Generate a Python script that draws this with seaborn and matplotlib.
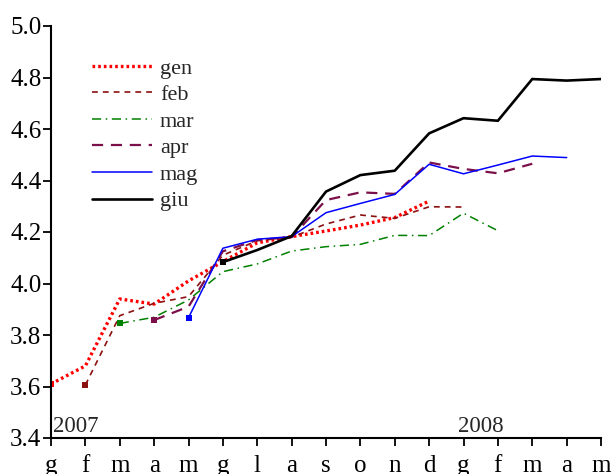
import numpy as np
import pandas as pd
import matplotlib
matplotlib.use("Agg")
import matplotlib.pyplot as plt
import seaborn as sns

months = ["g", "f", "m", "a", "m", "g", "l", "a", "s", "o", "n", "d",
          "g", "f", "m", "a", "m"]
year_labels = ["2007", "2008"]

gen = [3.61, 3.68, 3.94, 3.92, 4.01, 4.085, 4.158, 4.182, 4.204, 4.227, 4.256, 4.32]
feb = [3.606, 3.875, 3.923, 3.949, 4.11, 4.166, 4.18, 4.231, 4.266, 4.253, 4.298, 4.297]
mar = [3.845, 3.869, 3.936, 4.046, 4.076, 4.126, 4.143, 4.152, 4.187, 4.186, 4.273, 4.205]
apr = [3.858, 3.91, 4.125, 4.169, 4.18, 4.324, 4.354, 4.348, 4.47, 4.445, 4.428, 4.465]
mag = [3.867, 4.137, 4.172, 4.182, 4.275, 4.311, 4.346, 4.463, 4.426, 4.46, 4.495, 4.489]
giu = [4.083, 4.13, 4.184, 4.357, 4.421, 4.438, 4.583, 4.642, 4.632, 4.794, 4.788, 4.794]

series_names = ["gen", "feb", "mar", "apr", "mag", "giu"]
series_values = [gen, feb, mar, apr, mag, giu]
series_start = [0, 1, 2, 3, 4, 5]

styles = {
    "gen": dict(color="#FF0000", lw=2.4, ls=(0, (0.8, 0.9))),
    "feb": dict(color="#8B1010", lw=1.2, ls=(0, (3.5, 3.0))),
    "mar": dict(color="#008000", lw=1.1, ls=(0, (6, 3, 1, 3))),
    "apr": dict(color="#7A0F4A", lw=1.6, ls=(0, (5, 3.5))),
    "mag": dict(color="#0000FF", lw=1.1, ls="-"),
    "giu": dict(color="#000000", lw=1.9, ls="-"),
}

rows = []
for name, vals, s in zip(series_names, series_values, series_start):
    for i, v in enumerate(vals):
        rows.append({"series": name, "x": s + i, "y": v})
df = pd.DataFrame(rows)

sns.set_style("ticks")
plt.rcParams["font.family"] = ["Liberation Serif", "DejaVu Serif"]

fig = plt.figure(figsize=(6.13, 4.74), dpi=100)
ax = fig.add_axes([51 / 613, 36 / 474, 550 / 613, 412 / 474])

for name in series_names:
    st = styles[name]
    sub = df[df["series"] == name]
    sns.lineplot(data=sub, x="x", y="y", ax=ax, color=st["color"],
                 linewidth=st["lw"], linestyle=st["ls"], label=name,
                 marker="s", markersize=5, markevery=[0],
                 markeredgewidth=0, markerfacecolor=st["color"],
                 estimator=None, sort=False)

ax.set_xlim(0, len(months) - 1)
ax.set_ylim(3.4, 5.0)
ax.set_xticks(range(len(months)))
ax.set_xticklabels(months)
ax.set_yticks(np.arange(3.4, 5.01, 0.2))
ax.set_yticklabels([f"{v:.1f}" for v in np.arange(3.4, 5.01, 0.2)])
ax.set_xlabel("")
ax.set_ylabel("")
for sp in ["top", "right"]:
    ax.spines[sp].set_visible(False)
for sp in ["left", "bottom"]:
    ax.spines[sp].set_linewidth(1.5)
    ax.spines[sp].set_color("black")
ax.tick_params(axis="both", direction="out", length=6, width=1.3,
               colors="black", labelsize=18)
ax.tick_params(axis="x", pad=6)
ax.tick_params(axis="y", pad=1)

ax.text(0.05, 3.405, year_labels[0], fontsize=16.5, ha="left", va="bottom")
ax.text(12.5, 3.405, year_labels[1], fontsize=16.5, ha="center", va="bottom")

leg = ax.legend(loc="upper left", bbox_to_anchor=(92 / 613, 1 - 58 / 474),
                bbox_transform=fig.transFigure, frameon=False, fontsize=16,
                handlelength=2.7, handletextpad=0.35, labelspacing=0.27,
                borderpad=0, borderaxespad=0)
for h in leg.get_lines():
    h.set_marker("")

fig.savefig("out.png", dpi=100)
